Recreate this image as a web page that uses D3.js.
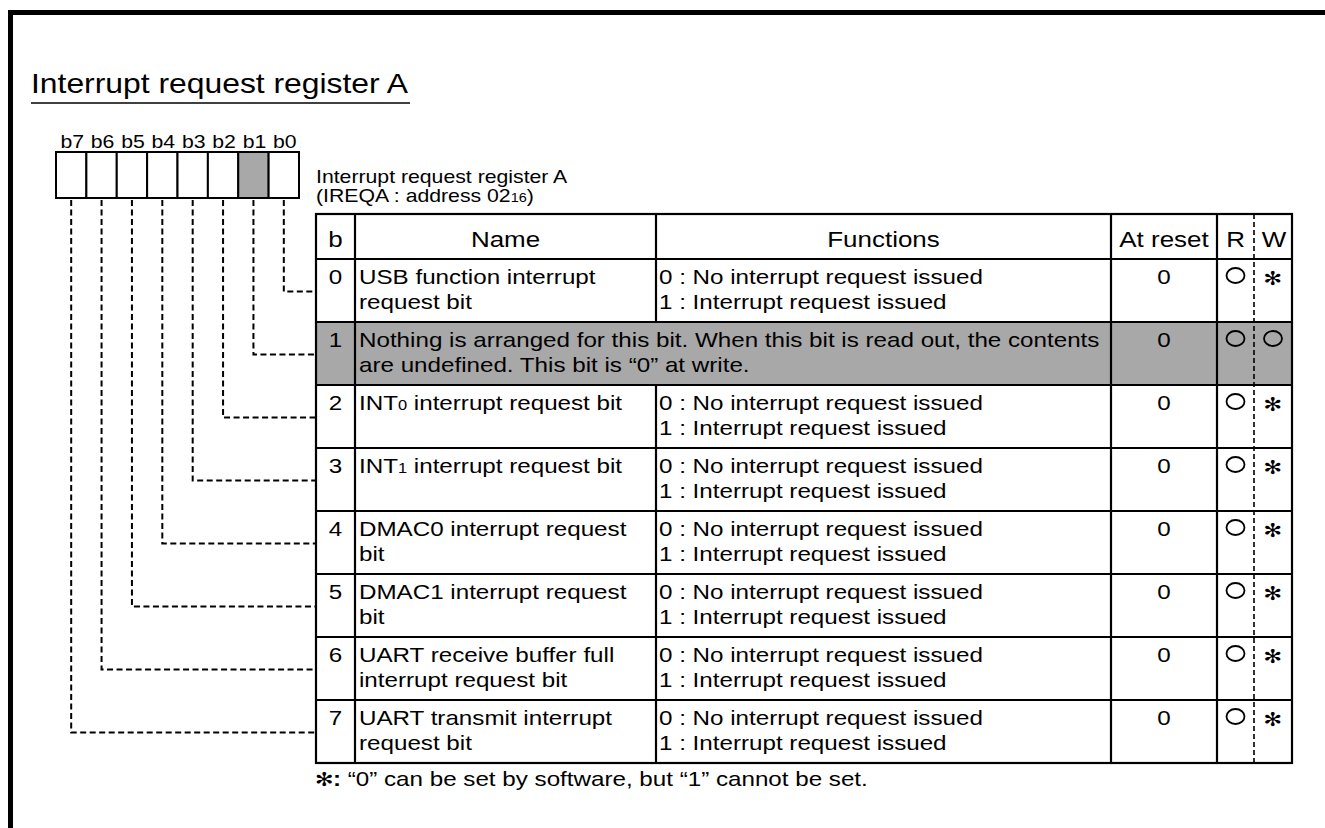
<!DOCTYPE html>
<html><head><meta charset="utf-8">
<script src="https://cdn.jsdelivr.net/npm/d3@7"></script>
<style>
html,body{margin:0;padding:0;background:#fff;}
svg{display:block;}
</style></head>
<body>
<svg id="chart" width="1325" height="828"></svg>
<script>
// ---------- data ----------
const chartTitle = "Interrupt request register A";
const registerLabel = ["Interrupt request register A", "(IREQA : address 02{16})"];
const bitLabels = ["b7", "b6", "b5", "b4", "b3", "b2", "b1", "b0"];
const reservedBits = ["b1"];
const columnHeaders = ["b", "Name", "Functions", "At reset", "R", "W"];
const rowBits = ["0", "1", "2", "3", "4", "5", "6", "7"];
const rowNames = [
  ["USB function interrupt", "request bit"],
  ["Nothing is arranged for this bit. When this bit is read out, the contents", "are undefined. This bit is \u201c0\u201d at write."],
  ["INT{0} interrupt request bit"],
  ["INT{1} interrupt request bit"],
  ["DMAC0 interrupt request", "bit"],
  ["DMAC1 interrupt request", "bit"],
  ["UART receive buffer full", "interrupt request bit"],
  ["UART transmit interrupt", "request bit"]
];
const rowFunctions = [
  ["0 : No interrupt request issued", "1 : Interrupt request issued"],
  [],
  ["0 : No interrupt request issued", "1 : Interrupt request issued"],
  ["0 : No interrupt request issued", "1 : Interrupt request issued"],
  ["0 : No interrupt request issued", "1 : Interrupt request issued"],
  ["0 : No interrupt request issued", "1 : Interrupt request issued"],
  ["0 : No interrupt request issued", "1 : Interrupt request issued"],
  ["0 : No interrupt request issued", "1 : Interrupt request issued"]
];
const atReset = ["0", "0", "0", "0", "0", "0", "0", "0"];
const readMark = ["O", "O", "O", "O", "O", "O", "O", "O"];
const writeMark = ["*", "O", "*", "*", "*", "*", "*", "*"];
const reservedRows = ["1"];
const footnote = " \u201c0\u201d can be set by software, but \u201c1\u201d cannot be set.";

// ---------- layout ----------
const SX = 1.18;
const FONT = "'Liberation Sans', Arial, Helvetica, sans-serif";
const GRAY = "#a8a8a8";
const svg = d3.select("#chart");

function txt(x, y, str, size, anchor, weight) {
  const t = svg.append("text")
    .attr("transform", `translate(${x},${y}) scale(${SX},1)`)
    .attr("font-family", FONT)
    .attr("font-size", size)
    .attr("fill", "#000")
    .attr("text-anchor", anchor || "start")
    .attr("font-weight", weight || "normal");
  const parts = str.split(/(\{[^}]*\})/);
  parts.forEach(p => {
    if (!p) return;
    if (p[0] === "{") t.append("tspan").attr("font-size", size * 0.68).text(p.slice(1, -1));
    else t.append("tspan").text(p);
  });
  return t;
}

// frame
svg.append("line").attr("x1", 8).attr("x2", 1325).attr("y1", 12.5).attr("y2", 12.5).attr("stroke", "#000").attr("stroke-width", 5);
svg.append("line").attr("x1", 10.5).attr("x2", 10.5).attr("y1", 10).attr("y2", 828).attr("stroke", "#000").attr("stroke-width", 5);

// title
txt(31, 93, chartTitle, 27);
svg.append("line").attr("x1", 31).attr("x2", 410).attr("y1", 103).attr("y2", 103).attr("stroke", "#000").attr("stroke-width", 1.5);

// bit boxes
const xBit = d3.scaleBand().domain(bitLabels).range([56, 299]);
const boxTop = 152, boxBot = 198;
bitLabels.forEach(b => {
  txt(xBit(b) + xBit.bandwidth() / 2 + 1, 148, b, 18, "middle");
  svg.append("rect").attr("x", xBit(b)).attr("y", boxTop).attr("width", xBit.bandwidth()).attr("height", boxBot - boxTop)
    .attr("fill", reservedBits.includes(b) ? GRAY : "#fff").attr("stroke", "#000").attr("stroke-width", 2);
});

// register label
txt(316, 183, registerLabel[0], 18);
txt(316, 202, registerLabel[1], 18);

// table
const colEdges = [316, 355, 656, 1111, 1217, 1254, 1292];
const headTop = 214, headBot = 259, tableBot = 763;
const yRow = d3.scaleBand().domain(rowBits).range([headBot, tableBot]);

// gray reserved row backgrounds
reservedRows.forEach(r => {
  svg.append("rect").attr("x", colEdges[0]).attr("y", yRow(r)).attr("width", colEdges[6] - colEdges[0]).attr("height", yRow.bandwidth()).attr("fill", GRAY);
});

// header text
columnHeaders.forEach((h, i) => {
  txt((colEdges[i] + colEdges[i + 1]) / 2 + (i === 5 ? 1 : 0), 247, h, 22, "middle");
});

// row contents
rowBits.forEach((b, i) => {
  const y0 = yRow(b);
  const l1 = y0 + 25, l2 = y0 + 50;
  txt((colEdges[0] + colEdges[1]) / 2, l1, b, 20.5, "middle");
  rowNames[i].forEach((s, k) => txt(colEdges[1] + 4, k ? l2 : l1, s, 20.5));
  rowFunctions[i].forEach((s, k) => txt(colEdges[2] + 3, k ? l2 : l1, s, 20.5));
  txt((colEdges[3] + colEdges[4]) / 2, l1, atReset[i], 20.5, "middle");
  [[readMark[i], (colEdges[4] + colEdges[5]) / 2], [writeMark[i], (colEdges[5] + colEdges[6]) / 2]].forEach(([m, cx]) => {
    if (m === "O") {
      svg.append("ellipse").attr("cx", cx).attr("cy", y0 + 16.5).attr("rx", 9).attr("ry", 7.5)
        .attr("fill", "none").attr("stroke", "#000").attr("stroke-width", 1.8);
    } else {
      txt(cx, y0 + 26, "\u273B", 19, "middle", "bold").attr("font-family", "'DejaVu Sans', sans-serif");
    }
  });
});

// grid lines
const lineG = svg.append("g").attr("stroke", "#000").attr("stroke-width", 2.2);
lineG.append("rect").attr("x", colEdges[0]).attr("y", headTop).attr("width", colEdges[6] - colEdges[0]).attr("height", tableBot - headTop).attr("fill", "none");
[headBot, ...rowBits.slice(1).map(b => yRow(b))].forEach(y => {
  lineG.append("line").attr("x1", colEdges[0]).attr("x2", colEdges[6]).attr("y1", y).attr("y2", y);
});
[1, 2, 3, 4].forEach(ci => {
  rowBits.concat(["head"]).forEach(b => {
    const y1 = b === "head" ? headTop : yRow(b);
    const y2 = b === "head" ? headBot : yRow(b) + yRow.bandwidth();
    if (ci === 2 && reservedRows.includes(b)) return;
    lineG.append("line").attr("x1", colEdges[ci]).attr("x2", colEdges[ci]).attr("y1", y1).attr("y2", y2);
  });
});
// R/W dashed divider
svg.append("line").attr("x1", colEdges[5]).attr("x2", colEdges[5]).attr("y1", headTop).attr("y2", tableBot + 3)
  .attr("stroke", "#000").attr("stroke-width", 1.6).attr("stroke-dasharray", "5,3");

// connectors
rowBits.forEach(b => {
  const bit = "b" + b;
  const cx = xBit(bit) + xBit.bandwidth() / 2;
  const cy = yRow(b) + yRow.bandwidth() / 2 + 1;
  svg.append("path").attr("d", `M${cx},${boxBot + 2}V${cy}H${colEdges[0]}`)
    .attr("fill", "none").attr("stroke", "#000").attr("stroke-width", 2).attr("stroke-dasharray", "6,3.5");
});

// footnote
txt(315, 786, "\u273B", 19, "start", "bold").attr("font-family", "'DejaVu Sans', sans-serif");
const fn = svg.append("text")
  .attr("transform", `translate(333,786) scale(${SX},1)`)
  .attr("font-family", FONT).attr("font-size", 20.5).attr("fill", "#000");
fn.append("tspan").attr("font-weight", "bold").text(":");
fn.append("tspan").text(footnote);
</script>
</body></html>
